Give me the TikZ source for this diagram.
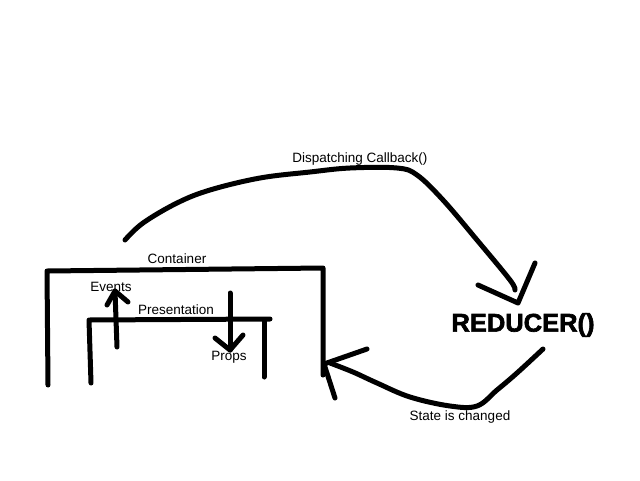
\documentclass[tikz,border=0pt]{standalone}
\usepackage{fontspec}
\setmainfont{Liberation Sans}
\newfontfamily\heavyfont[FakeBold=2.5]{Liberation Sans Bold}
\begin{document}
\begin{tikzpicture}[x=1pt,y=-1pt,
  ink/.style={line width=5pt,line cap=round,line join=round},
  lbl/.style={font=\fontsize{13.5}{15}\selectfont,inner sep=0pt},
  big/.style={font=\fontsize{25.5}{28}\heavyfont,inner sep=0pt}]
\useasboundingbox[fill=white] (0,0) rectangle (640,480);
% labels
\node[lbl] (dispatch) at (360,159) {Dispatching Callback()};
\node[lbl] (container) at (177,259) {Container};
\node[lbl] (events) at (111,287) {Events};
\node[lbl] (presentation) at (176,310) {Presentation};
\node[lbl] (props) at (229,357) {Props};
\node[lbl] (state) at (460,417) {State is changed};
\node[big] (reducer) at (523,325) {REDUCER()};
% container box
\draw[ink] (48,385) -- (47,271) -- (323,268) -- (323,375);
% presentation box
\draw[ink] (91,383) -- (89,320) -- (270,319);
\draw[ink] (264,321) -- (264,377);
% events arrow
\coordinate (evA) at (117,347);
\coordinate (evB) at (115,291);
\draw[ink] (evA) -- (evB);
\draw[ink] (107,305) -- (evB) -- (128,302);
% props arrow
\coordinate (prA) at (230,293);
\coordinate (prB) at (230,350);
\draw[ink] (prA) -- (prB);
\draw[ink] (215,338) -- (prB) -- (243,335);
% dispatching curve
\coordinate (dTip) at (518,303);
\draw[ink] plot[smooth,tension=0.6] coordinates {(125,240) (143,223) (177,203) (210,190) (260,178) (310,172) (350,168) (397,168) (417,175) (443,200) (477,240) (510,280) (515,290)};
\draw[ink] (478,285) -- (dTip) -- (535,263);
% state curve
\coordinate (sTip) at (324,364);
\draw[ink] plot[smooth,tension=0.6] coordinates {(543,349) (517,373) (497,390) (477,406) (450,406) (410,397) (377,383) (353,372) (330,363)};
\draw[ink] (367,349) -- (sTip) -- (335,398);
\end{tikzpicture}
\end{document}
